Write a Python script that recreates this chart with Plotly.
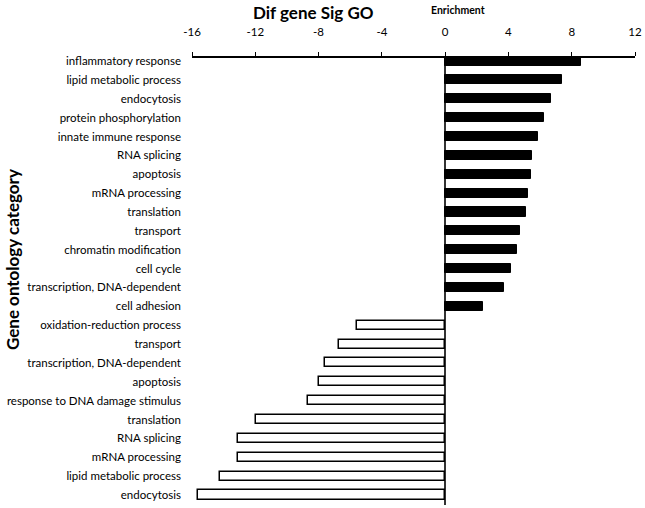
import plotly.graph_objects as go

categories = [
    "inflammatory response", "lipid metabolic process", "endocytosis",
    "protein phosphorylation", "innate immune response", "RNA splicing",
    "apoptosis", "mRNA processing", "translation", "transport",
    "chromatin modification", "cell cycle", "transcription, DNA-dependent",
    "cell adhesion", "oxidation-reduction process", "transport",
    "transcription, DNA-dependent", "apoptosis", "response to DNA damage stimulus",
    "translation", "RNA splicing", "mRNA processing", "lipid metabolic process",
    "endocytosis",
]
up_values = [8.57, 7.39, 6.70, 6.25, 5.85, 5.52, 5.45, 5.22, 5.12, 4.72,
             4.57, 4.17, 3.69, 2.40]
down_values = [-5.58, -6.68, -7.62, -8.00, -8.65, -11.94, -13.12, -13.12,
               -14.21, -15.65]
x_ticks = [-16, -12, -8, -4, 0, 4, 8, 12]
x_tick_labels = ["-16", "-12", "-8", "-4", "0", "4", "8", "12"]

n_up = len(up_values)
pos_up = list(range(n_up))
pos_down = list(range(n_up, n_up + len(down_values)))

FONT = "Lato, 'Open Sans', sans-serif"

fig = go.Figure()
fig.add_trace(go.Bar(
    x=up_values, y=pos_up, orientation="h", width=0.48,
    marker=dict(color="black", line=dict(color="black", width=1)),
    showlegend=False, hoverinfo="skip",
))
fig.add_trace(go.Bar(
    x=down_values, y=pos_down, orientation="h", width=0.48,
    marker=dict(color="white", line=dict(color="black", width=1.5)),
    showlegend=False, hoverinfo="skip",
))

fig.update_layout(
    width=645, height=508,
    margin=dict(l=192, r=10, t=58, b=3),
    plot_bgcolor="white", paper_bgcolor="white",
    font=dict(family=FONT, color="black", size=11),
    bargap=0,
    xaxis=dict(
        side="top", range=[-16, 12], tickvals=x_ticks, ticktext=x_tick_labels,
        automargin=False,
        showline=True, linecolor="black", linewidth=1.5,
        ticks="outside", ticklen=4, tickcolor="black", tickwidth=1,
        showgrid=False, zeroline=True, zerolinecolor="#333", zerolinewidth=1.5,
        tickfont=dict(size=11.5, family=FONT), ticklabelstandoff=12,
    ),
    yaxis=dict(
        range=[23.53, -0.16], tickvals=pos_up + pos_down, ticktext=categories,
        automargin=False,
        showgrid=False, zeroline=False, showline=False, ticks="",
        tickfont=dict(size=11.5, family=FONT), ticklabelstandoff=10,
    ),
    annotations=[
        dict(text="<b>Dif gene Sig GO</b>", xref="paper", yref="paper",
             x=(313 - 192) / 443, y=1 + (58 - 12) / 447, xanchor="center",
             yanchor="middle", showarrow=False, font=dict(size=17, family=FONT)),
        dict(text="<b>Enrichment</b>", xref="paper", yref="paper",
             x=(458 - 192) / 443, y=1 + (58 - 10) / 447, xanchor="center",
             yanchor="middle", showarrow=False, font=dict(size=10.5, family=FONT)),
        dict(text="<b>Gene ontology category</b>", xref="paper", yref="paper",
             x=(12 - 192) / 443, y=(505 - 260) / 447, xanchor="center",
             yanchor="middle", textangle=-90, showarrow=False,
             font=dict(size=17, family=FONT)),
    ],
)

fig.write_html(
    "out.html",
    config={"displayModeBar": False},
    post_script="document.body.style.margin='0';document.body.style.overflow='hidden';",
)
